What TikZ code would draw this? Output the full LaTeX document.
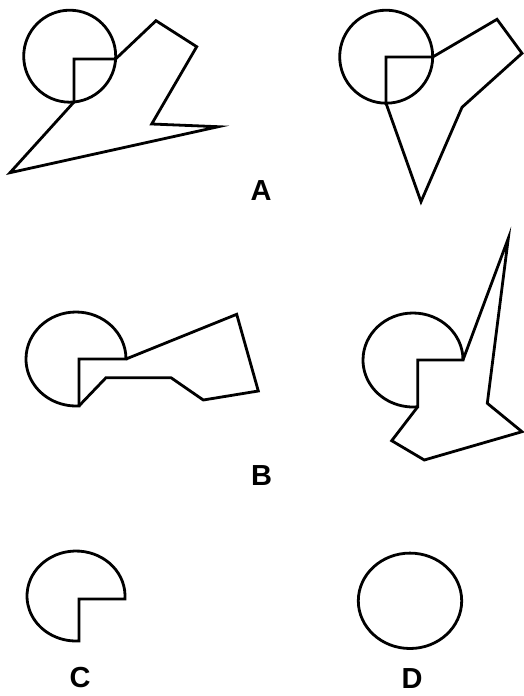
\documentclass[tikz,border=0pt]{standalone}
\usepackage{fontspec}
\setmainfont{Liberation Sans}
\usepackage{tikz}
\usepackage{xcolor}
\definecolor{ink}{HTML}{000000}

\begin{document}
\begin{tikzpicture}[x=1pt,y=1pt,
    outline/.style={draw=ink,line width=2.8pt,line join=miter},
    letter/.style={font=\fontsize{29}{31}\selectfont\bfseries,text=ink,inner sep=0pt}]
    \useasboundingbox (0,0) rectangle (524,-696);
    \draw[outline] (69.7,-56.2) circle[radius=46];
    \draw[outline] (74,-102) -- (74,-59) -- (115.6,-59) -- (156,-20.7) -- (196.7,-46.7)
                   -- (151.7,-124) -- (218.3,-126.7) -- (10,-172.7) -- cycle;
    \draw[outline] (386.2,-56.7) circle[radius=46.5];
    \draw[outline] (386,-103.2) -- (386,-57) -- (432.7,-57) -- (497,-19.3) -- (522,-53.3)
                   -- (462,-107.3) -- (421,-201.7) -- cycle;
    \node[letter] (labA) at (261,-191) {A};

    \draw[outline] (79,-359) -- (126,-359)
                   arc[start angle=0,end angle=273.4,x radius=50,y radius=47] -- cycle;
    \draw[outline] (126,-359) -- (236.7,-314.3) -- (258.3,-391) -- (203.3,-400)
                   -- (171,-377.7) -- (106,-377.7) -- (79,-405.9);
    \draw[outline] (417.7,-360) -- (463,-360)
                   arc[start angle=0,end angle=275.4,x radius=50,y radius=47] -- cycle;
    \draw[outline] (463,-360) -- (508.3,-238.3) -- (487.3,-403.3) -- (522,-431.7)
                   -- (424.3,-460) -- (391.7,-440.7) -- (417.7,-406.8);
    \node[letter] (labB) at (261.7,-476) {B};

    \draw[outline] (79,-599) -- (124.9,-599)
                   arc[start angle=-3.8,end angle=273.5,x radius=49,y radius=45] -- cycle;
    \node[letter] (labC) at (80,-678) {C};
    \draw[outline] (410,-600.8) ellipse[x radius=51.7,y radius=47.7];
    \node[letter] (labD) at (412,-679) {D};
\end{tikzpicture}
\end{document}
